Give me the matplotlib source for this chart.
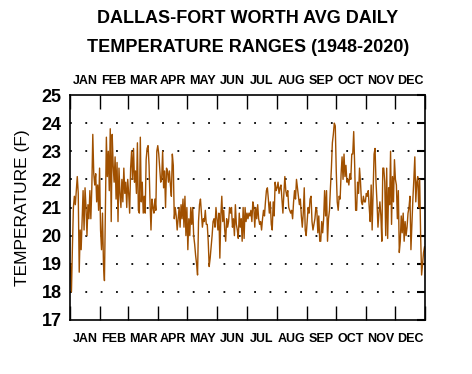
import numpy as np
import matplotlib
matplotlib.use("Agg")
import matplotlib.pyplot as plt

months = ["JAN", "FEB", "MAR", "APR", "MAY", "JUN", "JUL", "AUG", "SEP", "OCT", "NOV", "DEC"]
month_days = [31, 29, 31, 30, 31, 30, 31, 31, 30, 31, 30, 31]

jan = [19.0, 18.0, 19.6, 21.0, 21.4, 21.1, 21.6, 22.1, 21.5, 18.7, 20.2, 19.5, 20.5, 21.6, 20.2, 21.7,
       21.0, 20.0, 21.1, 20.6, 21.6, 20.6, 21.7, 23.6, 22.2, 21.8, 22.2, 21.2, 21.8, 20.9, 22.4]
feb = [20.2, 19.5, 20.8, 19.0, 18.4, 21.0, 23.5, 22.1, 23.0, 21.6, 23.8, 20.5, 23.6, 22.5, 21.9,
       22.8, 21.3, 22.6, 20.5, 22.4, 21.5, 21.0, 22.0, 21.2, 22.4, 21.5, 21.9, 21.0, 22.0]
mar = [21.5, 20.8, 22.4, 23.0, 22.0, 23.1, 21.9, 22.3, 21.5, 23.3, 20.9, 20.8, 23.5, 21.2, 21.9, 20.8,
       21.4, 20.8, 22.7, 23.1, 23.2, 22.5, 21.2, 20.2, 21.3, 21.0, 20.8, 21.3, 20.9, 23.0, 23.2]
apr = [22.9, 22.4, 21.9, 22.0, 23.0, 21.7, 22.3, 21.0, 22.4, 22.3, 21.9, 22.3, 21.8, 21.4, 22.9,
       22.5, 20.6, 21.0, 20.7, 20.2, 20.6, 21.0, 20.3, 21.1, 20.6, 21.3, 20.3, 21.4, 20.0, 21.0]
may = [19.5, 20.6, 20.0, 21.0, 20.4, 21.0, 20.0, 19.7, 19.3, 19.0, 18.6, 20.5, 21.1, 21.3, 20.8, 20.3,
       20.6, 20.5, 20.9, 20.4, 20.4, 19.8, 18.9, 19.2, 19.6, 20.0, 20.5, 20.6, 20.3, 21.0, 20.6]
jun = [20.2, 20.8, 19.2, 20.7, 21.4, 20.5, 20.9, 20.2, 19.8, 20.6, 20.3, 20.5, 21.0, 20.8, 21.0,
       20.3, 20.6, 20.0, 21.1, 20.4, 20.2, 19.9, 20.8, 20.3, 20.6, 19.8, 21.0, 19.9, 21.0, 20.5]
jul = [20.8, 20.6, 20.8, 20.7, 20.9, 20.5, 21.2, 21.0, 20.3, 21.0, 20.6, 21.1, 20.6, 20.4, 20.5, 20.2,
       20.6, 20.9, 20.7, 21.2, 21.6, 21.7, 21.3, 20.8, 21.2, 20.4, 20.2, 21.2, 20.7, 21.9, 21.6]
aug = [21.7, 21.9, 21.5, 21.7, 21.8, 21.3, 20.8, 21.5, 22.1, 21.6, 21.4, 21.6, 21.0, 20.9, 20.8, 20.9,
       20.6, 21.2, 21.6, 21.3, 22.0, 21.7, 21.4, 21.1, 21.3, 20.7, 20.3, 20.8, 21.7, 20.2, 20.0]
sep = [20.5, 21.0, 20.8, 21.3, 21.4, 20.5, 20.2, 20.4, 20.6, 21.0, 20.9, 20.1, 20.7, 19.8, 19.8,
       20.5, 20.1, 20.6, 21.6, 20.7, 21.6, 19.8, 20.6, 20.9, 21.7, 22.4, 23.3, 23.6, 24.0, 23.9]
oct_ = [22.3, 21.2, 20.9, 21.4, 21.3, 22.2, 22.8, 22.0, 22.9, 22.1, 22.5, 21.9, 22.0, 21.8, 22.2, 22.0,
        22.9, 22.9, 23.7, 22.5, 20.9, 20.9, 21.9, 21.5, 22.4, 21.9, 21.2, 21.1, 21.4, 21.2, 21.2]
nov = [21.5, 21.4, 21.6, 21.0, 20.5, 21.8, 20.2, 21.5, 22.9, 23.1, 21.9, 21.2, 20.3, 20.8, 21.2,
       20.7, 19.8, 22.4, 22.4, 21.9, 20.0, 22.4, 19.9, 21.7, 21.1, 23.0, 20.4, 22.1, 21.2, 22.7]
dec = [22.0, 21.8, 20.6, 21.6, 19.4, 19.8, 20.7, 20.1, 20.8, 19.8, 20.5, 20.0, 20.3, 20.8, 21.0, 21.4,
       19.5, 20.4, 21.3, 22.0, 22.8, 21.2, 21.9, 22.1, 21.0, 22.0, 20.0, 18.6, 19.0, 19.4, 19.6]

values = np.array(jan + feb + mar + apr + may + jun + jul + aug + sep + oct_ + nov + dec)
days = np.arange(len(values)) + 0.5

bounds = np.concatenate([[0], np.cumsum(month_days)])
mids = (bounds[:-1] + bounds[1:]) / 2.0

plt.rcParams['font.family'] = ['Liberation Sans', 'DejaVu Sans']

fig = plt.figure(figsize=(4.72, 3.74), dpi=100)
ax = fig.add_axes([70 / 472, 54 / 374, 355 / 472, 225 / 374])

ax.plot(days, values, color='#A05000', lw=1.0)

ax.set_xlim(0, 366)
ax.set_ylim(17, 25)

for y in range(18, 25):
    ax.axhline(y, color='black', lw=1.3, linestyle=(0, (1, 7.5)), zorder=0)

ax.set_xticks(bounds)
ax.set_xticklabels([])
ax.set_xticks(mids, minor=True)
ax.set_xticklabels(months, minor=True, fontsize=9, fontweight='bold')
ax.tick_params(axis='x', which='major', direction='in', length=10, width=1,
               top=True, bottom=True)
ax.tick_params(axis='x', which='minor', length=0, top=False, bottom=True,
               labeltop=False, labelbottom=True, pad=9)

sec = ax.secondary_xaxis('top')
sec.set_xticks(mids)
sec.set_xticklabels(months, fontsize=9, fontweight='bold')
sec.tick_params(length=0, pad=6)
sec.spines['top'].set_visible(False)

ax.set_yticks(range(17, 26))
ax.set_yticklabels([str(v) for v in range(17, 26)], fontsize=13, fontweight='bold')
ax.tick_params(axis='y', which='major', direction='in', length=6, width=1.5,
               left=False, right=True, pad=6)

for s in ax.spines.values():
    s.set_linewidth(1.2)

ax.set_ylabel('TEMPERATURE (F)', fontsize=12.5, labelpad=8)

fig.text(0.525, 0.972, 'DALLAS-FORT WORTH AVG DAILY\nTEMPERATURE RANGES (1948-2020)',
         ha='center', va='top', fontsize=13, fontweight='bold', linespacing=1.85)

fig.savefig('out.png', dpi=100)
